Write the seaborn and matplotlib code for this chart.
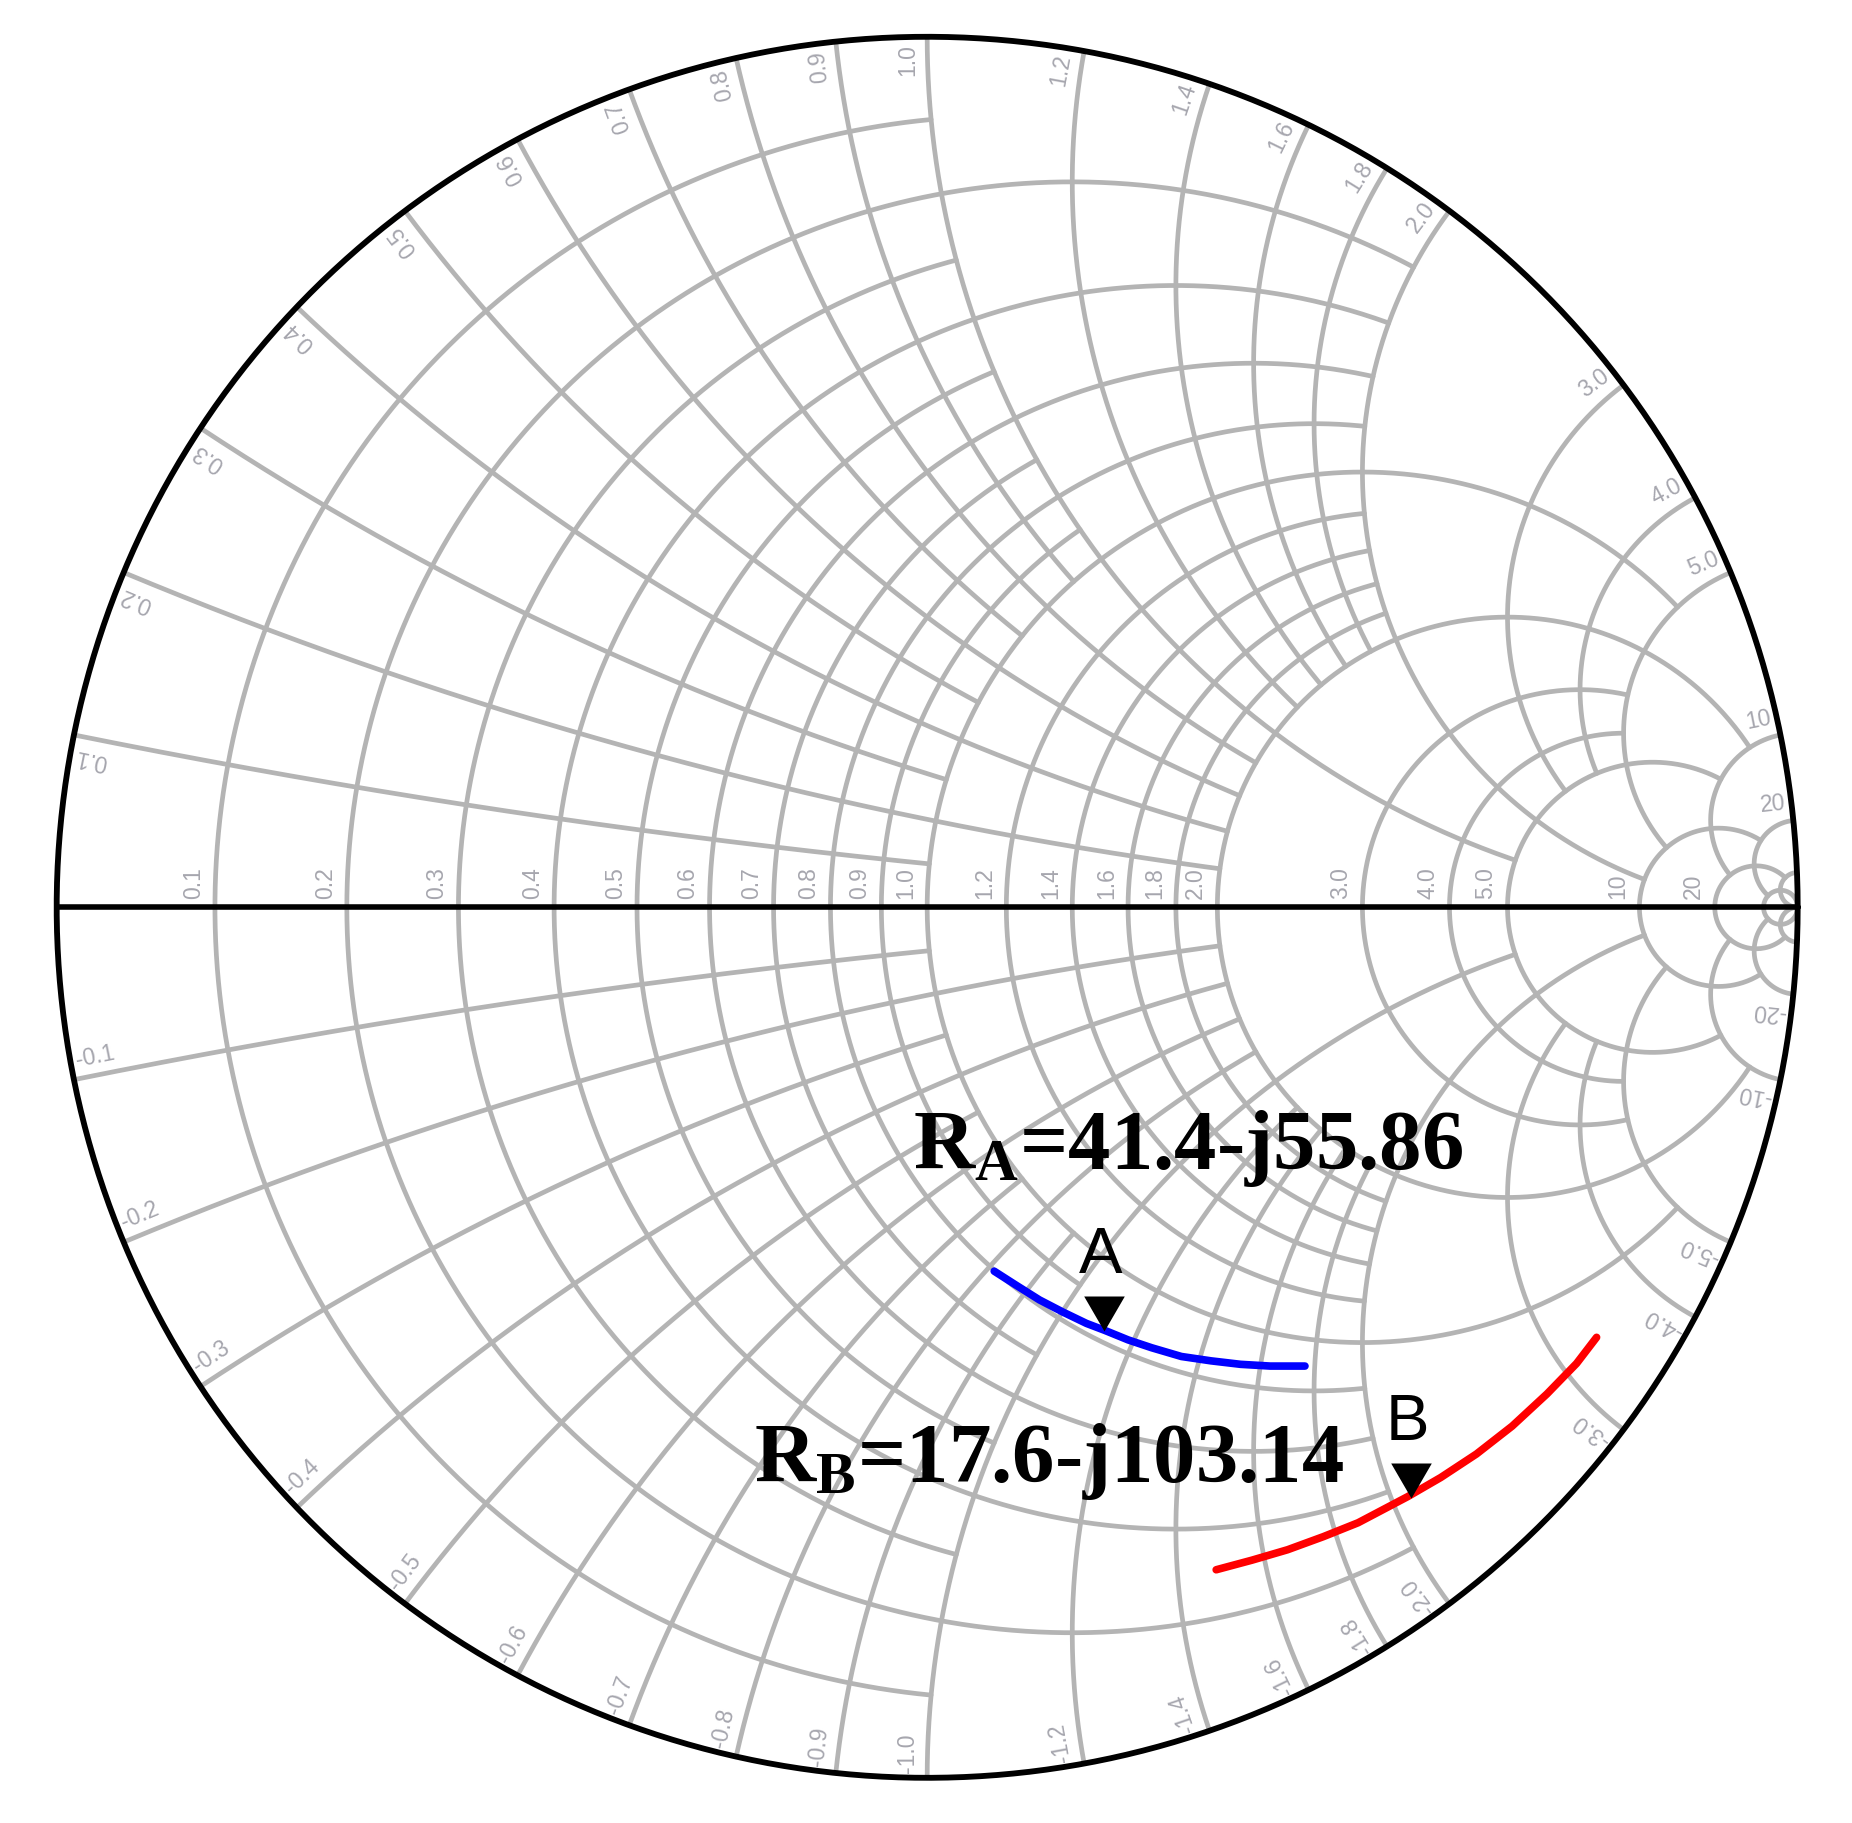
import numpy as np
import pandas as pd
import matplotlib
matplotlib.use("Agg")
import matplotlib.pyplot as plt
import seaborn as sns

# Valores de las circunferencias de la carta de Smith y el valor en que termina cada una
grid_values = [0.1, 0.2, 0.3, 0.4, 0.5, 0.6, 0.7, 0.8, 0.9, 1.0,
               1.2, 1.4, 1.6, 1.8, 2.0, 3.0, 4.0, 5.0, 10, 20, 50]
grid_ends = [1, 2, 1, 2, 1, 2, 1, 2, 1, 5,
             2, 2, 2, 2, 10, 5, 5, 10, 20, 50, np.inf]
grid_labels = ["0.1", "0.2", "0.3", "0.4", "0.5", "0.6", "0.7", "0.8", "0.9", "1.0",
               "1.2", "1.4", "1.6", "1.8", "2.0", "3.0", "4.0", "5.0", "10", "20", ""]

s11_a_re = [0.077, 0.102, 0.129, 0.156, 0.183, 0.204, 0.231, 0.258,
            0.292, 0.326, 0.360, 0.394, 0.434]
s11_a_im = [-0.418, -0.434, -0.451, -0.465, -0.478, -0.486, -0.497, -0.506,
            -0.516, -0.521, -0.525, -0.527, -0.527]
s11_b_re = [0.332, 0.373, 0.414, 0.455, 0.495, 0.552, 0.590, 0.631,
            0.672, 0.712, 0.746, 0.769]
s11_b_im = [-0.761, -0.750, -0.738, -0.723, -0.707, -0.677, -0.655, -0.628,
            -0.596, -0.559, -0.524, -0.494]

# Marcadores (impedancia en ohm)
marker_names = ["A", "B"]
marker_r = [41.4, 17.6]
marker_x = [-55.86, -103.14]
z0 = 50.0

grid_color = "#b4b4b4"
label_color = "#a6a6ae"


def gamma(z):
    return (z - 1) / (z + 1)


sns.set_theme(style="white")
plt.rcParams["mathtext.fontset"] = "custom"
plt.rcParams["mathtext.bf"] = "Liberation Serif:bold"
plt.rcParams["mathtext.rm"] = "Liberation Serif"

fig = plt.figure(figsize=(18.52, 18.24), dpi=100)
ax = fig.add_axes([0, 0, 1, 1])
ax.set_xlim(-1.0651, 1.0624)
ax.set_ylim(-1.0519, 1.0434)
ax.axis("off")

# rejilla
for v, e in zip(grid_values, grid_ends):
    top = np.arctan(e) if np.isfinite(e) else np.pi / 2 - 1e-5
    u = np.linspace(-top, top, 1500)
    g = gamma(v + 1j * np.tan(u))
    ax.plot(g.real, g.imag, color=grid_color, lw=3.4, zorder=1)
    u = np.linspace(0, top, 1500)
    for sign in (1, -1):
        g = gamma(np.tan(u) + 1j * sign * v)
        ax.plot(g.real, g.imag, color=grid_color, lw=3.4, zorder=1)

# borde y eje real
t = np.linspace(0, 2 * np.pi, 1000)
ax.plot(np.cos(t), np.sin(t), color="black", lw=4.2, zorder=3)
ax.plot([-1, 1], [0, 0], color="black", lw=4.0, zorder=3)

# etiquetas
px = 1 / 870.5
for v, lab in zip(grid_values, grid_labels):
    if not lab:
        continue
    g0 = gamma(v)
    ax.text(g0 - 10 * px, 9 * px, lab, rotation=90, ha="left", va="bottom",
            rotation_mode="anchor", fontsize=16.5, color=label_color,
            family="Liberation Sans", zorder=2)
    th = np.angle(gamma(1j * v))
    for sign in (1, -1):
        ang = sign * th
        if sign > 0:
            rot, ha, up = np.degrees(ang), "right", ang + np.pi / 2
        else:
            rot, ha, up = np.degrees(ang) + 180, "left", ang - np.pi / 2
        rr = 1 - 6 * px
        xa = rr * np.cos(ang) + 8 * px * np.cos(up)
        ya = rr * np.sin(ang) + 8 * px * np.sin(up)
        txt = lab if sign > 0 else "-" + lab
        ax.text(xa, ya, txt, rotation=rot, ha=ha, va="bottom",
                rotation_mode="anchor", fontsize=16.5, color=label_color,
                family="Liberation Sans", zorder=2)

# trazas
df_a = pd.DataFrame({"re": s11_a_re, "im": s11_a_im})
df_b = pd.DataFrame({"re": s11_b_re, "im": s11_b_im})
sns.lineplot(data=df_a, x="re", y="im", sort=False, estimator=None,
             color="#0000ff", lw=5.5, ax=ax, zorder=4)
sns.lineplot(data=df_b, x="re", y="im", sort=False, estimator=None,
             color="#ff0000", lw=5.5, ax=ax, zorder=4)

# marcadores
tri = [(0, 0), (-0.58, 1), (0.58, 1)]
for name, r, x in zip(marker_names, marker_r, marker_x):
    g = gamma(complex(r, x) / z0)
    ax.scatter([g.real], [g.imag], marker=tri, s=2540, color="black",
               linewidths=0, zorder=5)
    ax.text(g.real - 0.004, g.imag + 0.068, name, ha="center", va="baseline",
            fontsize=47, color="black", family="Liberation Sans", zorder=5)

ax.text(-0.016, -0.2995, r"$\mathbf{R_A}$=41.4-j55.86", fontsize=61,
        fontweight="bold", color="black", family="Liberation Serif", zorder=5)
ax.text(-0.199, -0.659, r"$\mathbf{R_B}$=17.6-j103.14", fontsize=61,
        fontweight="bold", color="black", family="Liberation Serif", zorder=5)

fig.savefig("out.png", dpi=100, facecolor="white")
